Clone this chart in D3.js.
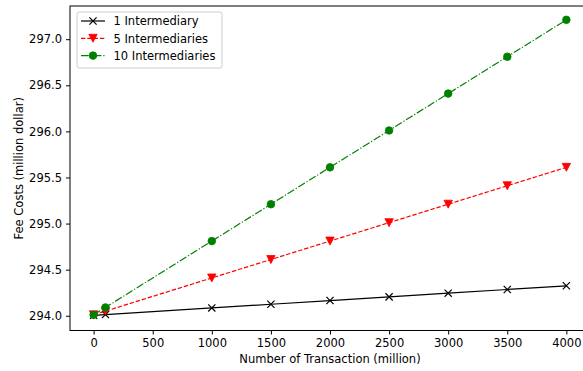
<!DOCTYPE html>
<html><head><meta charset="utf-8">
<script src="https://cdn.jsdelivr.net/npm/d3@7"></script>
<style>
html,body{margin:0;padding:0;background:#fff;}
svg{display:block;font-family:"DejaVu Sans",sans-serif;}
</style></head>
<body><svg id="c" width="583" height="371"></svg>
<script>
const transactions = [0, 100, 1000, 1500, 2000, 2500, 3000, 3500, 4000];
const oneIntermediary = [294.005, 294.013, 294.085, 294.125, 294.165, 294.205, 294.245, 294.285, 294.325];
const fiveIntermediaries = [294.01, 294.05, 294.41, 294.61, 294.81, 295.01, 295.21, 295.41, 295.61];
const tenIntermediaries = [294.01, 294.09, 294.81, 295.21, 295.61, 296.01, 296.41, 296.81, 297.21];
const xTicks = [0, 500, 1000, 1500, 2000, 2500, 3000, 3500, 4000];
const yTicks = [294.0, 294.5, 295.0, 295.5, 296.0, 296.5, 297.0];
const seriesNames = ["1 Intermediary", "5 Intermediaries", "10 Intermediaries"];

const FS = 11.5;
const svg = d3.select("#c");
const L = 70, R = 590, T = 6, B = 330.5;
const x = d3.scaleLinear().domain([-200, 4200]).range([L, R]);
const y = d3.scaleLinear().domain([293.84, 297.36]).range([B, T]);

const series = [
  {name: seriesNames[0], values: oneIntermediary, color: "#000000", dash: null, marker: "x"},
  {name: seriesNames[1], values: fiveIntermediaries, color: "#ff0000", dash: "4.4,1.9", marker: "v"},
  {name: seriesNames[2], values: tenIntermediaries, color: "#008000", dash: "7.7,1.9,1.2,1.9", marker: "o"}
];

function drawMarker(g, type, color, cx, cy) {
  if (type === "x") {
    const s = 3.6;
    g.append("path").attr("d", `M${cx-s},${cy-s}L${cx+s},${cy+s}M${cx-s},${cy+s}L${cx+s},${cy-s}`)
      .attr("stroke", color).attr("stroke-width", 1.2).attr("fill", "none");
  } else if (type === "v") {
    const s = 4.2;
    g.append("path").attr("d", `M${cx-s},${cy-s*0.95}L${cx+s},${cy-s*0.95}L${cx},${cy+s*0.95}Z`)
      .attr("fill", color).attr("stroke", color).attr("stroke-width", 0.8);
  } else {
    g.append("circle").attr("cx", cx).attr("cy", cy).attr("r", 3.8)
      .attr("fill", color).attr("stroke", color).attr("stroke-width", 0.8);
  }
}

const plot = svg.append("g");
const line = d3.line().x((d, i) => x(transactions[i])).y(d => y(d));
series.forEach(s => {
  const g = plot.append("g");
  g.append("path").datum(s.values).attr("d", line)
    .attr("fill", "none").attr("stroke", s.color).attr("stroke-width", 1.2)
    .attr("stroke-dasharray", s.dash);
  s.values.forEach((v, i) => drawMarker(g, s.marker, s.color, x(transactions[i]), y(v)));
});

// frame
svg.append("rect").attr("x", L).attr("y", T).attr("width", R - L).attr("height", B - T)
  .attr("fill", "none").attr("stroke", "#000").attr("stroke-width", 1);

const xAxis = svg.append("g").attr("transform", `translate(0,${B})`)
  .call(d3.axisBottom(x).tickValues(xTicks).tickFormat(d3.format("d")).tickSize(4).tickPadding(4));
const yAxis = svg.append("g").attr("transform", `translate(${L},0)`)
  .call(d3.axisLeft(y).tickValues(yTicks).tickFormat(d3.format(".1f")).tickSize(4).tickPadding(4));
[xAxis, yAxis].forEach(a => {
  a.select(".domain").remove();
  a.selectAll("text").attr("font-size", FS).attr("fill", "#000").attr("font-family", "DejaVu Sans");
  a.selectAll("line").attr("stroke", "#000");
});

svg.append("text").attr("x", (L + R) / 2).attr("y", 363).attr("text-anchor", "middle")
  .attr("font-size", FS).text("Number of Transaction (million)");
svg.append("text").attr("transform", `translate(22.5,${(T + B) / 2}) rotate(-90)`)
  .attr("text-anchor", "middle").attr("font-size", FS).text("Fee Costs (million dollar)");

// legend
const lg = svg.append("g");
lg.append("rect").attr("x", 77).attr("y", 12).attr("width", 145).attr("height", 56).attr("rx", 2)
  .attr("fill", "#fff").attr("fill-opacity", 0.8).attr("stroke", "#ccc").attr("stroke-width", 1);
series.forEach((s, i) => {
  const yy = 21 + i * 17.3;
  lg.append("line").attr("x1", 81).attr("x2", 105).attr("y1", yy).attr("y2", yy)
    .attr("stroke", s.color).attr("stroke-width", 1.2).attr("stroke-dasharray", s.dash);
  drawMarker(lg, s.marker, s.color, 93, yy);
  lg.append("text").attr("x", 113.5).attr("y", yy + 4.2).attr("font-size", FS).text(s.name);
});
</script></body></html>
